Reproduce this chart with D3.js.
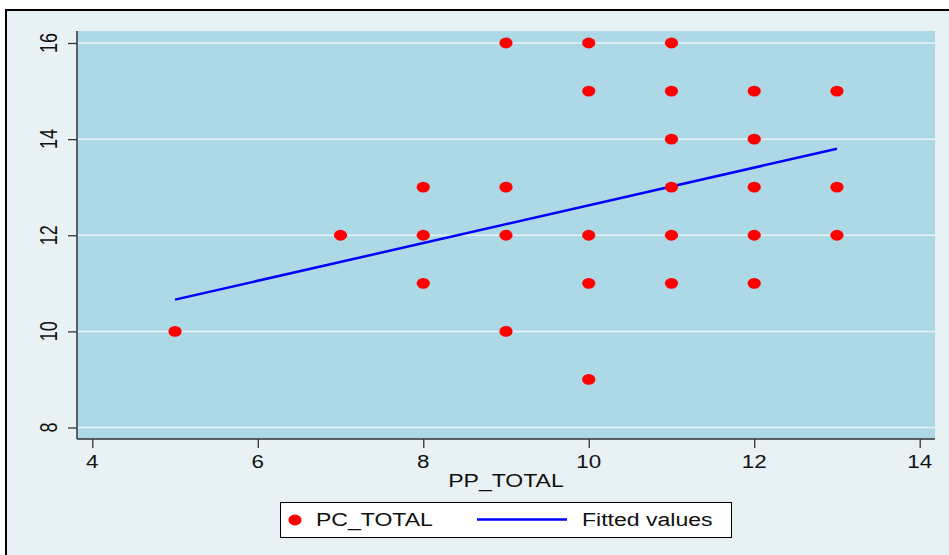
<!DOCTYPE html>
<html>
<head>
<meta charset="utf-8">
<script src="https://cdn.jsdelivr.net/npm/d3@7"></script>
<style>
body { margin: 0; background: #fff; }
svg { display: block; font-family: "Liberation Sans", Arial, sans-serif; }
</style>
</head>
<body>
<svg width="949" height="555"></svg>
<script>
// data
var ppTotal = [5, 7, 8, 8, 8, 9, 9, 9, 9, 10, 10, 10, 10, 10, 11, 11, 11, 11, 11, 11, 12, 12, 12, 12, 12, 13, 13, 13];
var pcTotal = [10, 12, 13, 12, 11, 16, 13, 12, 10, 16, 15, 12, 11, 9, 16, 15, 14, 13, 12, 11, 15, 14, 13, 12, 11, 15, 13, 12];
var fitX = [5, 13];
var fitY = [10.66, 13.80];
var xTicks = [4, 6, 8, 10, 12, 14];
var yTicks = [8, 10, 12, 14, 16];

var sx = 1.28; // picture is stretched sideways

var svg = d3.select('svg');

// outer frame
svg.append('rect')
    .attr('x', 6).attr('y', 10)
    .attr('width', 960).attr('height', 560)
    .attr('fill', '#e8f1f3')
    .attr('stroke', '#000')
    .attr('stroke-width', 2);

var plotLeft = 77, plotRight = 935, plotTop = 31, plotBottom = 439;

var scaleX = d3.scaleLinear().domain([4, 14]).range([92.3, 919.7]);
var scaleY = d3.scaleLinear().domain([8, 16]).range([427.5, 43]);

svg.append('rect')
    .attr('x', plotLeft).attr('y', plotTop)
    .attr('width', plotRight - plotLeft).attr('height', plotBottom - plotTop)
    .attr('fill', '#add8e6');

// grid
svg.selectAll('.grid')
    .data(yTicks)
    .enter()
    .append('line')
    .attr('class', 'grid')
    .attr('x1', plotLeft).attr('x2', plotRight)
    .attr('y1', function(d){ return scaleY(d); })
    .attr('y2', function(d){ return scaleY(d); })
    .attr('stroke', '#eaf3f5')
    .attr('stroke-width', 1.5);

// y axis
var gy = svg.append('g')
    .attr('transform', 'translate(' + plotLeft + ',0)')
    .call(d3.axisLeft(scaleY).tickValues(yTicks).tickSize(9).tickFormat(''));
gy.select('.domain').attr('d', 'M0,' + plotTop + 'V' + plotBottom).attr('stroke', '#333').attr('stroke-width', 1.5);
gy.selectAll('.tick line').attr('stroke', '#333').attr('stroke-width', 1.3);

svg.selectAll('.ylab')
    .data(yTicks)
    .enter()
    .append('text')
    .attr('class', 'ylab')
    .attr('transform', function(d){
        return 'translate(57,' + scaleY(d) + ')scale(' + sx + ',1)rotate(-90)';
    })
    .attr('text-anchor', 'middle')
    .attr('font-size', 18)
    .attr('fill', '#111')
    .text(function(d){ return d; });

// x axis
var gx = svg.append('g')
    .attr('transform', 'translate(0,' + plotBottom + ')')
    .call(d3.axisBottom(scaleX).tickValues(xTicks).tickSize(9).tickFormat(''));
gx.select('.domain').attr('d', 'M' + plotLeft + ',0H' + plotRight).attr('stroke', '#333').attr('stroke-width', 1.5);
gx.selectAll('.tick line').attr('stroke', '#333').attr('stroke-width', 1.3);

svg.selectAll('.xlab')
    .data(xTicks)
    .enter()
    .append('text')
    .attr('class', 'xlab')
    .attr('transform', function(d){
        return 'translate(' + scaleX(d) + ',468)scale(' + sx + ',1)';
    })
    .attr('text-anchor', 'middle')
    .attr('font-size', 17.5)
    .attr('fill', '#111')
    .text(function(d){ return d; });

svg.append('text')
    .attr('transform', 'translate(506,487)scale(' + sx + ',1)')
    .attr('text-anchor', 'middle')
    .attr('font-size', 18)
    .attr('fill', '#111')
    .text('PP_TOTAL');

// fitted line
var line = d3.line()
    .x(function(d){ return scaleX(d[0]); })
    .y(function(d){ return scaleY(d[1]); });

svg.append('path')
    .datum(d3.zip(fitX, fitY))
    .attr('d', line)
    .attr('fill', 'none')
    .attr('stroke', '#0000ff')
    .attr('stroke-width', 2.5);

// points
svg.selectAll('.dataPoints')
    .data(d3.zip(ppTotal, pcTotal))
    .enter()
    .append('ellipse')
    .attr('class', 'dataPoints')
    .attr('cx', function(d){ return scaleX(d[0]); })
    .attr('cy', function(d){ return scaleY(d[1]); })
    .attr('rx', 6.6)
    .attr('ry', 5.4)
    .attr('fill', '#ff0000');

// legend
var lg = svg.append('g');
lg.append('rect')
    .attr('x', 280.5).attr('y', 502.5)
    .attr('width', 451).attr('height', 35)
    .attr('fill', '#fff')
    .attr('stroke', '#000')
    .attr('stroke-width', 1);
lg.append('ellipse')
    .attr('cx', 295).attr('cy', 520)
    .attr('rx', 6.6).attr('ry', 5.4)
    .attr('fill', '#ff0000');
lg.append('text')
    .attr('transform', 'translate(316,526)scale(' + sx + ',1)')
    .attr('font-size', 18)
    .attr('fill', '#111')
    .text('PC_TOTAL');
lg.append('line')
    .attr('x1', 477).attr('x2', 567)
    .attr('y1', 519.5).attr('y2', 519.5)
    .attr('stroke', '#0000ff')
    .attr('stroke-width', 2.5);
lg.append('text')
    .attr('transform', 'translate(582,526)scale(' + sx + ',1)')
    .attr('font-size', 18)
    .attr('fill', '#111')
    .text('Fitted values');
</script>
</body>
</html>
